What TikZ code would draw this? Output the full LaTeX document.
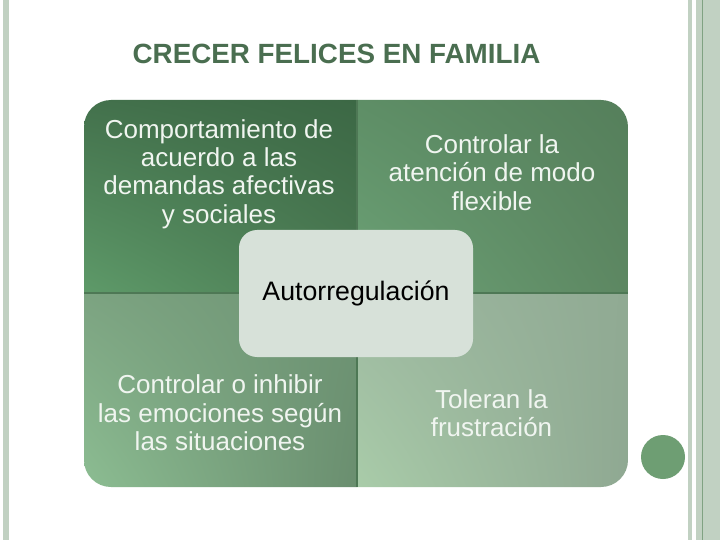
\documentclass[tikz,border=0pt]{standalone}
\usepackage{fontspec}
\setmainfont{Liberation Sans}
\usetikzlibrary{shadings}

\definecolor{barfill}{RGB}{193,209,194}
\definecolor{barline}{RGB}{128,162,130}
\definecolor{dotfill}{RGB}{110,158,115}
\definecolor{titlefill}{RGB}{74,110,80}
\definecolor{hubfill}{RGB}{215,225,217}
\definecolor{edgefill}{RGB}{78,120,85}
\definecolor{cellink}{RGB}{240,245,240}

\begin{document}
\begin{tikzpicture}[x=1pt,y=-1pt,
  cell/.style={text=cellink,font=\fontsize{26}{28.3}\selectfont,align=center},
  hub/.style={fill=hubfill,rounded corners=18pt,minimum width=234pt,minimum height=127pt,font=\fontsize{26.7}{30}\selectfont}]
  \useasboundingbox (0,0) rectangle (720,540);
  \fill[white] (0,0) rectangle (720,540);
  % bars at the sides
  \fill[barfill] (3,0) rectangle (9,540);
  \fill[barfill] (688,0) rectangle (692,540);
  \fill[barfill] (696,0) rectangle (720,540);
  \draw[barline,line width=1pt] (702.8,0) -- (702.8,540);
  \fill[dotfill] (663,457) circle (22pt);
  \node[font=\fontsize{27.8}{30}\selectfont\bfseries,text=titlefill] (title) at (336.5,53.7) {CRECER FELICES EN FAMILIA};
  % four quadrants
  \begin{scope}
    \clip[rounded corners=27pt] (84,100) rectangle (628,487);
    \shade[upper left={rgb,255:red,67;green,113;blue,76},upper right={rgb,255:red,60;green,104;blue,69},
      lower left={rgb,255:red,94;green,154;blue,105},lower right={rgb,255:red,75;green,122;blue,83}] (84,100) rectangle (357,293);
    \shade[upper left={rgb,255:red,94;green,142;blue,102},upper right={rgb,255:red,85;green,127;blue,91},
      lower left={rgb,255:red,108;green,162;blue,118},lower right={rgb,255:red,93;green,135;blue,98}] (357,100) rectangle (628,293);
    \shade[upper left={rgb,255:red,124;green,163;blue,129},upper right={rgb,255:red,110;green,148;blue,116},
      lower left={rgb,255:red,140;green,189;blue,146},lower right={rgb,255:red,106;green,142;blue,111}] (84,293) rectangle (357,487);
    \shade[upper left={rgb,255:red,157;green,184;blue,160},upper right={rgb,255:red,144;green,170;blue,147},
      lower left={rgb,255:red,169;green,204;blue,169},lower right={rgb,255:red,143;green,168;blue,146}] (357,293) rectangle (628,487);
    \draw[edgefill,line width=1.2pt] (84,293) -- (628,293);
    \draw[edgefill,line width=1.2pt] (357,100) -- (357,487);
  \end{scope}
  \node[hub] (hub) at (356,293.5) {Autorregulación};
  \node[cell] (tl) at (219,174) {Comportamiento de\\acuerdo a las\\demandas afectivas\\y sociales};
  \node[cell] (tr) at (492,172.7) {Controlar la\\atención de modo\\flexible};
  \node[cell] (bl) at (220,413) {Controlar o inhibir\\las emociones según\\las situaciones};
  \node[cell] (br) at (491.5,413) {Toleran la\\frustración};
\end{tikzpicture}
\end{document}
